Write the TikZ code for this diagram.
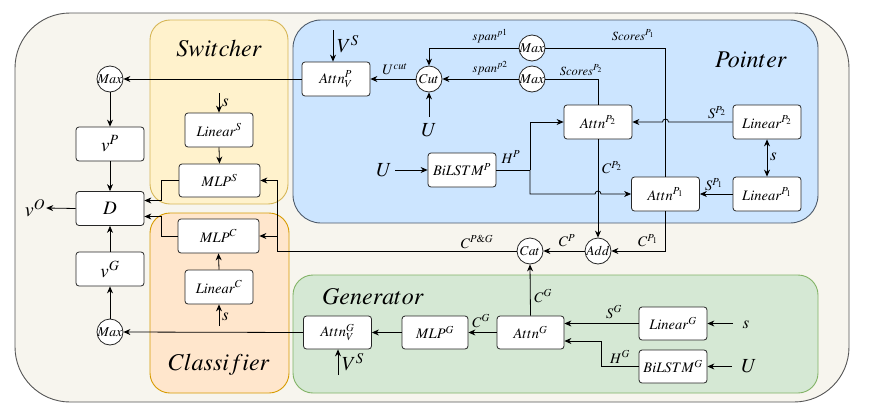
\documentclass[tikz,border=0pt]{standalone}
\usepackage{mathptmx}
\usepackage{fontspec}
\setmainfont{Liberation Serif}
\usetikzlibrary{arrows.meta}
\definecolor{outerfill}{HTML}{F7F5EE}
\definecolor{outerline}{HTML}{555555}
\definecolor{ptrfill}{HTML}{CCE5FF}
\definecolor{ptrline}{HTML}{4D5A6A}
\definecolor{genfill}{HTML}{D5E8D4}
\definecolor{genline}{HTML}{82B366}
\definecolor{swfill}{HTML}{FFF2CC}
\definecolor{swline}{HTML}{D6B656}
\definecolor{clfill}{HTML}{FFE6CC}
\definecolor{clline}{HTML}{D79B00}
\newcommand{\opt}[1]{\makebox[0pt]{$#1$}}
\tikzset{
  box/.style={draw=black!85, fill=white, rounded corners=3pt, line width=0.8pt,
    minimum width=68pt, minimum height=34pt, inner sep=0pt, font=\fontsize{14.5}{16}\selectfont},
  bigbox/.style={box, font=\fontsize{19}{22}\selectfont},
  opc/.style={circle, draw=black!85, fill=white, line width=0.8pt, minimum size=26pt,
    inner sep=0pt, font=\fontsize{13.5}{14}\selectfont},
  arr/.style={-{Stealth[length=7pt,width=6pt]}, line width=0.8pt},
  ln/.style={line width=0.8pt},
  lbl/.style={font=\fontsize{14.5}{16}\selectfont, inner sep=1pt},
  slbl/.style={font=\fontsize{17}{19}\selectfont, inner sep=1pt},
  biglbl/.style={font=\fontsize{20}{22}\selectfont, inner sep=1pt},
  smlbl/.style={font=\fontsize{12.5}{14}\selectfont, inner sep=1pt},
  ttl/.style={font=\fontsize{24}{28}\selectfont, inner sep=0pt},
}
\begin{document}
\begin{tikzpicture}[x=1pt,y=-1pt]
\useasboundingbox (0,0) rectangle (872,415);
% background panels
\draw[fill=outerfill, draw=outerline, line width=0.9pt, rounded corners=55pt] (15,13) rectangle (849,402);
\draw[fill=swfill, draw=swline, line width=0.9pt, rounded corners=20pt] (150,20) rectangle (288,204);
\draw[fill=clfill, draw=clline, line width=0.9pt, rounded corners=20pt] (150,213) rectangle (289,393);
\draw[fill=ptrfill, draw=ptrline, line width=0.9pt, rounded corners=28pt] (293,20) rectangle (818,223);
\draw[fill=genfill, draw=genline, line width=0.9pt, rounded corners=20pt] (293,275) rectangle (818,393);
% titles
\node[ttl] (tSw) at (219,48) {$Switcher$};
\node[ttl] (tCl) at (219,365) {$Classifier$};
\node[ttl] (tPt) at (751,60) {$Pointer$};
\node[ttl] (tGn) at (373,297) {$Generator$};
% left column
\node[opc] (maxP) at (110,79) {\opt{Max}};
\node[bigbox] (vP) at (110,144) {$v^P$};
\node[bigbox] (D) at (110,208.5) {$D$};
\node[bigbox] (vG) at (110,269) {$v^G$};
\node[opc] (maxG) at (110,332) {\opt{Max}};
\node[biglbl] (vO) at (35,208) {$v^O$};
\draw[arr] (D.west) -- (vO.east);
\draw[arr] (maxP.south) -- (vP.north);
\draw[arr] (vP.south) -- (D.north);
\draw[arr] (vG.north) -- (D.south);
\draw[arr] (maxG.north) -- (vG.south);
% switcher / classifier
\node[box] (LinS) at (219,130) {$Linear^S$};
\node[box, minimum width=81pt, minimum height=33pt] (MLPS) at (219.5,180.5) {$MLP^S$};
\node[box, minimum width=81pt] (MLPC) at (218.5,236) {$MLP^C$};
\node[box] (LinC) at (219,287) {$Linear^C$};
\coordinate (sS) at (219,93);
\coordinate (sC) at (219,326);
\node[slbl, anchor=west] (sSl) at (221,103) {$s$};
\node[slbl, anchor=west] (sCl) at (221,317) {$s$};
\draw[arr] (sS) -- (LinS.north);
\draw[arr] (sC) -- (LinC.south);
\draw[arr] (LinS.south) -- (MLPS.north);
\draw[arr] (LinC.north) -- (MLPC.south);
\draw[arr] (MLPS.west) -- ++(-17,0) |- ([yshift=8pt]D.east);
\draw[arr] (MLPC.west) -- ++(-16,0) |- ([yshift=-8pt]D.east);
% pointer
\node[box] (AttnVP) at (336,79) {$Attn_V^P$};
\coordinate (VSp) at (333,30);
\draw[arr] (VSp) -- (VSp |- AttnVP.north);
\node[biglbl, anchor=west] (VSpl) at (336,44) {$V^S$};
\node[opc] (Cut) at (429,79) {\opt{Cut}};
\node[lbl] (Ucutl) at (395,69) {$U^{cut}$};
\draw[arr] (Cut.west) -- (AttnVP.east);
\draw[arr] (AttnVP.west) -- (maxP.east);
\coordinate (Ucut) at (429,117);
\node[biglbl] (Ucutlab) at (429,130) {$U$};
\draw[arr] (Ucut) -- (Cut.south);
\node[opc] (Max1) at (532,48) {\opt{Max}};
\node[opc] (Max2) at (532,79) {\opt{Max}};
\draw[arr] (Max1.west) -| (Cut.north);
\draw[arr] (Max2.west) -- (Cut.east);
\node[smlbl] (sp1) at (490,36) {$span^{p1}$};
\node[smlbl] (sp2) at (490,68) {$span^{p2}$};
\node[box] (AttnP2) at (598,122) {$Attn^{P_2}$};
\node[box] (AttnP1) at (665.5,194) {$Attn^{P_1}$};
\node[box] (LinP2) at (767,122) {$Linear^{P_2}$};
\node[box] (LinP1) at (767,194) {$Linear^{P_1}$};
\draw[ln] (Max1.east) -| (AttnP1.north);
\draw[ln] (Max2.east) -| (AttnP2.north);
\node[smlbl] (sc1) at (633,35) {$Scores^{P_1}$};
\node[smlbl] (sc2) at (581,70) {$Scores^{P_2}$};
\coordinate (h1) at (668.5,122);
\draw[arr] (LinP2.west) -- (h1) arc[start angle=0, end angle=180, radius=3pt] -- (AttnP2.east);
\draw[arr] (LinP1.west) -- (AttnP1.east);
\node[lbl] (SP2l) at (717,113) {$S^{P_2}$};
\node[lbl] (SP1l) at (714,185) {$S^{P_1}$};
\draw[{Stealth[length=7pt,width=6pt]}-{Stealth[length=7pt,width=6pt]}, line width=0.8pt] (LinP2.south) -- (LinP1.north);
\node[slbl, anchor=west] (sPl) at (769,157) {$s$};
\node[box] (BiP) at (462,170) {$BiLSTM^P$};
\coordinate (Uin) at (395,170);
\node[biglbl] (Uinl) at (384,170) {$U$};
\draw[arr] (Uin) -- (BiP.west);
\coordinate (hp) at (530,170);
\draw[ln] (BiP.east) -- (hp);
\draw[arr] (hp) |- (AttnP2.west);
\coordinate (h2) at (595,194);
\draw[arr] (hp) |- (h2) arc[start angle=180, end angle=0, radius=3pt] -- (AttnP1.west);
\node[lbl] (HPl) at (511,157) {$H^P$};
\node[opc] (Add) at (598,251) {\opt{Add}};
\node[opc] (Cat) at (530,251) {\opt{Cat}};
\draw[arr] (AttnP2.south) -- (Add.north);
\node[lbl] (CP2l) at (612,168) {$C^{P_2}$};
\draw[arr] (AttnP1.south) |- (Add.east);
\node[lbl] (CP1l) at (648,241) {$C^{P_1}$};
\draw[arr] (Add.west) -- (Cat.east);
\node[lbl] (CPl) at (567,241) {$C^P$};
\coordinate (cpg) at (277,251);
\draw[ln] (Cat.west) -- (cpg);
\draw[arr] (cpg) |- (MLPS.east);
\draw[arr] (cpg |- MLPC.east) -- (MLPC.east);
\node[lbl] (CPGl) at (477,242) {$C^{P\&G}$};
% generator
\node[box, minimum height=33pt] (AttnVG) at (337.5,332.5) {$Attn_V^G$};
\node[box, minimum width=66pt, minimum height=33pt] (MLPG) at (435,332.5) {$MLP^G$};
\node[box, minimum width=67pt, minimum height=33pt] (AttnG) at (530.5,332.5) {$Attn^G$};
\node[box, minimum height=33pt] (LinG) at (673,323.5) {$Linear^G$};
\node[box, minimum height=33pt] (BiG) at (673,366.5) {$BiLSTM^G$};
\draw[arr] (AttnG.west) -- (MLPG.east);
\node[lbl] (CGl1) at (481,321) {$C^G$};
\draw[arr] (MLPG.west) -- (AttnVG.east);
\draw[arr] (AttnVG.west) -- (maxG.east);
\coordinate (VSg) at (338,375);
\draw[arr] (VSg) -- (VSg |- AttnVG.south);
\node[biglbl, anchor=west] (VSgl) at (341,362) {$V^S$};
\draw[arr] (AttnG.north) -- (Cat.south);
\node[lbl] (CGl2) at (543,296) {$C^G$};
\draw[arr] (LinG.west) -- (LinG.west -| AttnG.east);
\draw[arr] (BiG.west) -- ++(-37,0) |- ([yshift=-8.5pt]AttnG.east);
\node[lbl] (SGl) at (614,312) {$S^G$};
\node[lbl] (HGl) at (620,357) {$H^G$};
\coordinate (sG) at (733,323.5);
\node[slbl] (sGl) at (746,325) {$s$};
\draw[arr] (sG) -- (LinG.east);
\coordinate (UG) at (732,366.5);
\node[biglbl] (UGl) at (749,366) {$U$};
\draw[arr] (UG) -- (BiG.east);
\end{tikzpicture}
\end{document}
